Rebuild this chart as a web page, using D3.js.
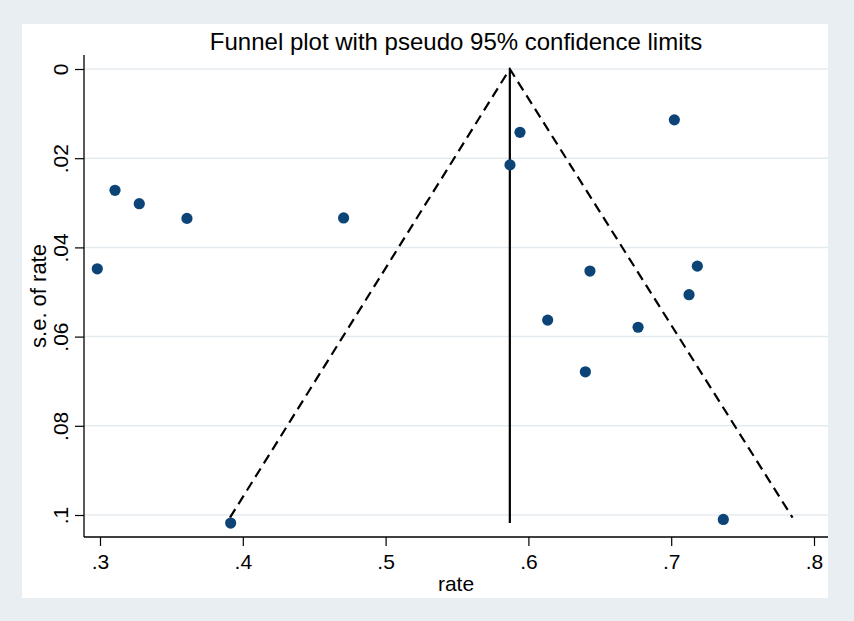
<!DOCTYPE html>
<html><head><meta charset="utf-8">
<script src="https://cdn.jsdelivr.net/npm/d3@7"></script>
<style>body{margin:0;background:#e8eef2;}svg{display:block;font-family:"Liberation Sans",Arial,sans-serif;}</style>
</head><body>
<svg id="c" width="854" height="621"></svg>
<script>
// Study estimates
const rate = [0.3105,0.3275,0.3609,0.4706,0.2981,0.5941,0.5871,0.7022,0.6431,0.7183,0.7125,0.6135,0.6768,0.6399,0.7365,0.3915];
const se   = [0.0272,0.0302,0.0335,0.0334,0.0448,0.0142,0.0215,0.0114,0.0453,0.0442,0.0506,0.0563,0.0579,0.0679,0.1010,0.1018];
// Pooled estimate and pseudo 95% limits
const pooled = [0.587];
const seMax = [0.1018];
const limitSE = [0.1006];
const limitLower = [0.391];
const limitUpper = [0.785];
const xTicks = [0.3,0.4,0.5,0.6,0.7,0.8];
const xTickLabels = [".3",".4",".5",".6",".7",".8"];
const yTicks = [0,0.02,0.04,0.06,0.08,0.1];
const yTickLabels = ["0",".02",".04",".06",".08",".1"];

const svg = d3.select("#c");
const L=84, R=828, T=55, B=537;
const x = d3.scaleLinear().domain([0.3,0.8]).range([100,814]);
const y = d3.scaleLinear().domain([0,0.1]).range([69,515]);

svg.append("rect").attr("x",0).attr("y",0).attr("width",854).attr("height",621).attr("fill","#e8eef2");
svg.append("rect").attr("x",22).attr("y",24).attr("width",R-22).attr("height",598-24).attr("fill","#ffffff");

// gridlines
svg.append("g").selectAll("line").data(yTicks).join("line")
  .attr("x1",L).attr("x2",R).attr("y1",d=>y(d)).attr("y2",d=>y(d))
  .attr("stroke","#e3ebef").attr("stroke-width",1.5);

// axes
const yAxis = d3.axisLeft(y).tickValues(yTicks).tickFormat((d,i)=>yTickLabels[i]).tickSize(9).tickSizeOuter(0);
const gy = svg.append("g").attr("transform",`translate(${L},0)`).call(yAxis);
gy.select(".domain").attr("d",`M0,${T}V${B}`).attr("stroke","#000").attr("stroke-width",1.3);
gy.selectAll(".tick line").attr("stroke","#000").attr("stroke-width",1.2);
gy.selectAll(".tick text").attr("font-size",21).attr("fill","#000")
  .attr("text-anchor","middle").attr("dy",0).attr("x",0)
  .attr("transform","translate(-16,0) rotate(-90)");

const xAxis = d3.axisBottom(x).tickValues(xTicks).tickFormat((d,i)=>xTickLabels[i]).tickSize(9).tickSizeOuter(0);
const gx = svg.append("g").attr("transform",`translate(0,${B})`).call(xAxis);
gx.select(".domain").attr("d",`M${L},0H${R}`).attr("stroke","#000").attr("stroke-width",1.3);
gx.selectAll(".tick line").attr("stroke","#000").attr("stroke-width",1.2);
gx.selectAll(".tick text").attr("font-size",21).attr("fill","#000").attr("y",17).attr("dy","0.71em");

// funnel
const ln = d3.line().x(d=>x(d[0])).y(d=>y(d[1]));
svg.append("path").attr("d",ln([[limitLower[0],limitSE[0]],[pooled[0],0],[limitUpper[0],limitSE[0]]]))
  .attr("fill","none").attr("stroke","#000").attr("stroke-width",2.2).attr("stroke-dasharray","10,6");
svg.append("path").attr("d",ln([[pooled[0],0],[pooled[0],seMax[0]]]))
  .attr("fill","none").attr("stroke","#000").attr("stroke-width",2.2);

// points
svg.append("g").selectAll("circle").data(rate.map((r,i)=>[r,se[i]])).join("circle")
  .attr("cx",d=>x(d[0])).attr("cy",d=>y(d[1])).attr("r",5.6).attr("fill","#0d4477");

// titles
svg.append("text").attr("x",(L+R)/2).attr("y",50).attr("text-anchor","middle").attr("font-size",24).text("Funnel plot with pseudo 95% confidence limits");
svg.append("text").attr("x",(L+R)/2).attr("y",591).attr("text-anchor","middle").attr("font-size",21).text("rate");
svg.append("text").attr("transform","translate(46,296) rotate(-90)").attr("text-anchor","middle").attr("font-size",22).text("s.e. of rate");
</script>
</body></html>
